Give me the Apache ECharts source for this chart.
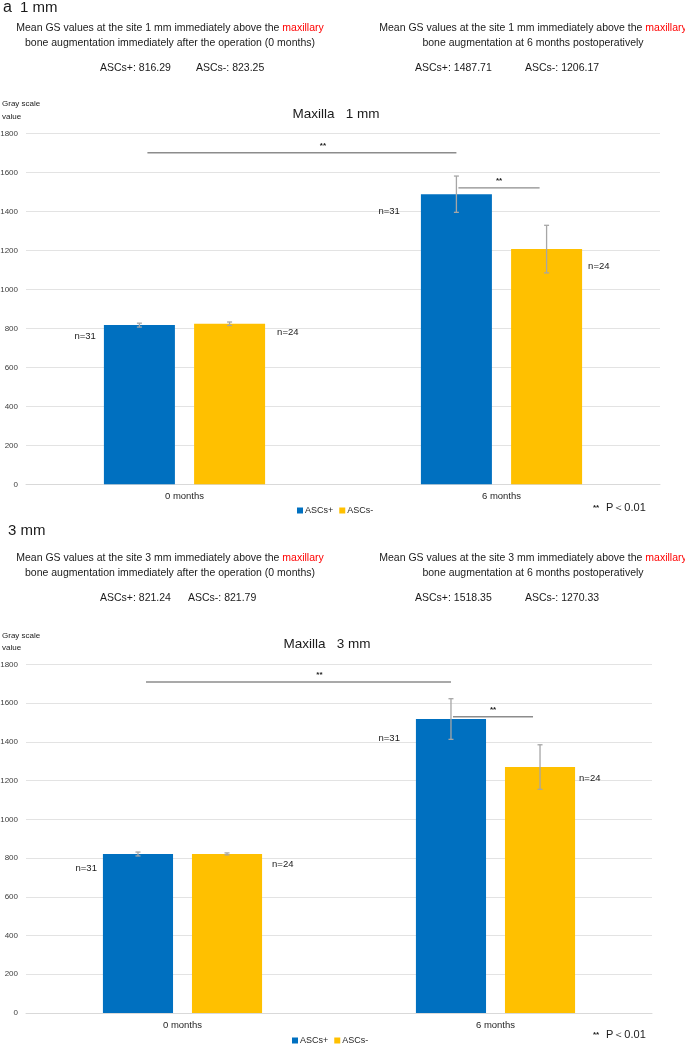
<!DOCTYPE html>
<html><head><meta charset="utf-8">
<script src="https://cdn.jsdelivr.net/npm/echarts@6/dist/echarts.min.js"></script>
<style>html,body{margin:0;padding:0;background:#fff}#c{width:685px;height:1046px}</style>
</head><body><div id="c"></div>
<script>
// ---------- data ----------
const categories = ['0 months', '6 months'];
const seriesNames = ['ASCs+', 'ASCs-'];
const yTicks = [0, 200, 400, 600, 800, 1000, 1200, 1400, 1600, 1800];
// 1 mm
const mean1Pos = [816.29, 1487.71];
const mean1Neg = [823.25, 1206.17];
const sd1Pos = [10, 93];
const sd1Neg = [9, 122];
// 3 mm
const mean3Pos = [821.24, 1518.35];
const mean3Neg = [821.79, 1270.33];
const sd3Pos = [10, 105];
const sd3Neg = [5, 115];
// group sizes
const nPos = ['n=31', 'n=31'];
const nNeg = ['n=24', 'n=24'];
// significance comparisons: [catA, slotA, catB, slotB, level]
const sig1 = [[0, 0, 1, 0, 1700], [1, 0, 1, 1, 1520]];
const sig3 = [[0, 0, 1, 0, 1710], [1, 0, 1, 1, 1530]];
const sigMark = '**';

// ---------- style/layout ----------
const BLUE = '#0070C0', YELLOW = '#FFC000';
const FONT = 'Liberation Sans, Arial, Helvetica, sans-serif';
const BAR_FRAC = 0.224, GAP_FRAC = 0.27;
// n label offsets [blueDx, blueDy, yellowDx, yellowDy] per category per chart
const nOffsets = [
  [[-8, 11, 12, 9], [-21, 17, 6, 17]],
  [[-6, 14, 10, 10], [-16, 19, 4, 11]]
];
// sig line offsets [startDx, endDx, starDx]
const sigOffsets = [[8, 0, 21], [2, -7, 0]];

function barX(api, cat, slot) {
  const c = api.coord([cat, 0])[0];
  const band = api.size([1, 0])[0];
  const bw = band * BAR_FRAC;
  const gap = bw * GAP_FRAC;
  return c + (slot === 0 ? -1 : 1) * (bw + gap) / 2;
}
function barW(api) { return api.size([1, 0])[0] * BAR_FRAC; }

const grids = [
  { left: 26, top: 133.3, width: 634, height: 351, containLabel: false, outerBoundsMode: 'none' },
  { left: 26, top: 664.5, width: 626, height: 348.5, containLabel: false, outerBoundsMode: 'none' }
];
const sets = [
  { pos: mean1Pos, neg: mean1Neg, sdp: sd1Pos, sdn: sd1Neg, sig: sig1 },
  { pos: mean3Pos, neg: mean3Neg, sdp: sd3Pos, sdn: sd3Neg, sig: sig3 }
];

const xAxes = [], yAxes = [], series = [];
sets.forEach((s, gi) => {
  xAxes.push({
    type: 'category', gridIndex: gi, data: categories,
    axisLine: { lineStyle: { color: '#d9d9d9' } }, axisTick: { show: false },
    axisLabel: { color: '#262626', fontSize: 9.5, fontFamily: FONT, margin: 7 }
  });
  yAxes.push({
    type: 'value', gridIndex: gi, min: yTicks[0], max: yTicks[yTicks.length - 1],
    interval: yTicks[1] - yTicks[0],
    axisLine: { show: false }, axisTick: { show: false },
    axisLabel: { color: '#404040', fontSize: 8, fontFamily: FONT, margin: 8, formatter: v => String(v) },
    splitLine: { lineStyle: { color: '#e3e3e3', width: 1 } }
  });
  [s.pos, s.neg].forEach((vals, k) => {
    series.push({
      type: 'bar', name: seriesNames[k], xAxisIndex: gi, yAxisIndex: gi,
      data: vals, barWidth: (BAR_FRAC * 100) + '%', barGap: (GAP_FRAC * 100) + '%',
      itemStyle: { color: k === 0 ? BLUE : YELLOW }, silent: true
    });
  });
  // error bars
  const errData = [];
  [s.pos, s.neg].forEach((vals, k) => {
    const sds = k === 0 ? s.sdp : s.sdn;
    vals.forEach((v, ci) => errData.push([ci, v - sds[ci], v + sds[ci], k]));
  });
  series.push({
    type: 'custom', xAxisIndex: gi, yAxisIndex: gi, data: errData, silent: true, z: 5,
    encode: { x: 0, y: [1, 2] },
    renderItem: (params, api) => {
      const cat = api.value(0), slot = api.value(3);
      const x = barX(api, cat, slot);
      const lo = api.coord([cat, api.value(1)])[1];
      const hi = api.coord([cat, api.value(2)])[1];
      const st = { stroke: '#a6a6a6', lineWidth: 1.3 };
      return { type: 'group', children: [
        { type: 'line', shape: { x1: x, y1: lo, x2: x, y2: hi }, style: st },
        { type: 'line', shape: { x1: x - 2.5, y1: lo, x2: x + 2.5, y2: lo }, style: st },
        { type: 'line', shape: { x1: x - 2.5, y1: hi, x2: x + 2.5, y2: hi }, style: st }
      ] };
    }
  });
  // n labels
  const nData = [];
  [s.pos, s.neg].forEach((vals, k) => vals.forEach((v, ci) => nData.push([ci, v, k])));
  series.push({
    type: 'custom', xAxisIndex: gi, yAxisIndex: gi, data: nData, silent: true, z: 6,
    encode: { x: 0, y: 1 },
    renderItem: (params, api) => {
      const cat = api.value(0), slot = api.value(2);
      const cx = barX(api, cat, slot), w = barW(api);
      const top = api.coord([cat, api.value(1)])[1];
      const off = nOffsets[gi][cat];
      const isPos = slot === 0;
      return { type: 'text', style: {
        text: isPos ? nPos[cat] : nNeg[cat],
        x: isPos ? cx - w / 2 + off[0] : cx + w / 2 + off[2],
        y: top + (isPos ? off[1] : off[3]),
        align: isPos ? 'right' : 'left', verticalAlign: 'middle',
        fill: '#1a1a1a', font: '9.5px ' + FONT } };
    }
  });
  // significance lines
  series.push({
    type: 'custom', xAxisIndex: gi, yAxisIndex: gi, data: s.sig, silent: true, z: 6,
    encode: { x: [0, 2], y: 4 },
    renderItem: (params, api) => {
      const i = params.dataIndex, o = sigOffsets[i];
      const x1 = barX(api, api.value(0), api.value(1)) + o[0];
      const x2 = barX(api, api.value(2), api.value(3)) + o[1];
      const y = api.coord([0, api.value(4)])[1];
      return { type: 'group', children: [
        { type: 'line', shape: { x1, y1: y, x2, y2: y }, style: { stroke: '#8c8c8c', lineWidth: 1.4 } },
        { type: 'text', style: { text: sigMark, x: (x1 + x2) / 2 + o[2], y: y - 7,
          align: 'center', verticalAlign: 'middle', fill: '#1a1a1a', font: 'bold 8px ' + FONT } }
      ] };
    }
  });
});

function txt(text, x, y, size, opts) {
  return Object.assign({ type: 'text', x, y, silent: true,
    style: Object.assign({ text, font: size + 'px ' + FONT, fill: '#1a1a1a', align: 'left', verticalAlign: 'middle' }, opts || {}) });
}
function header(line1a, line2, cx, y) {
  return { type: 'text', x: cx, y, silent: true, style: {
    text: '{a|' + line1a + '}{r|maxillary}\n{a|' + line2 + '}',
    align: 'center', verticalAlign: 'top', font: '10.5px ' + FONT, fill: '#1a1a1a', lineHeight: 15,
    rich: { a: { fontSize: 10.5, fontFamily: FONT, fill: '#1a1a1a', lineHeight: 15 },
            r: { fontSize: 10.5, fontFamily: FONT, fill: '#ff0000', lineHeight: 15 } } } };
}
const fmt = v => v.toFixed(2);
const graphics = [
  txt('a', 3, 8, 16), txt('1 mm', 20, 8, 15),
  header('Mean GS values at the site 1 mm immediately above the ', 'bone augmentation immediately after the operation (0 months)', 170, 21),
  header('Mean GS values at the site 1 mm immediately above the ', 'bone augmentation at 6 months postoperatively', 533, 21),
  txt(seriesNames[0] + ': ' + fmt(mean1Pos[0]), 100, 68, 10.5), txt(seriesNames[1] + ': ' + fmt(mean1Neg[0]), 196, 68, 10.5),
  txt(seriesNames[0] + ': ' + fmt(mean1Pos[1]), 415, 68, 10.5), txt(seriesNames[1] + ': ' + fmt(mean1Neg[1]), 525, 68, 10.5),
  txt('Gray scale\nvalue', 2, 110, 8, { lineHeight: 13 }),
  txt('Maxilla   1 mm', 336, 114, 13.5, { align: 'center' }),
  txt('**', 593, 508, 8, { font: 'bold 8px ' + FONT }), txt('P\uFF1C0.01', 606, 508, 11),

  txt('3 mm', 8, 531, 15),
  header('Mean GS values at the site 3 mm immediately above the ', 'bone augmentation immediately after the operation (0 months)', 170, 551),
  header('Mean GS values at the site 3 mm immediately above the ', 'bone augmentation at 6 months postoperatively', 533, 551),
  txt(seriesNames[0] + ': ' + fmt(mean3Pos[0]), 100, 598, 10.5), txt(seriesNames[1] + ': ' + fmt(mean3Neg[0]), 188, 598, 10.5),
  txt(seriesNames[0] + ': ' + fmt(mean3Pos[1]), 415, 598, 10.5), txt(seriesNames[1] + ': ' + fmt(mean3Neg[1]), 525, 598, 10.5),
  txt('Gray scale\nvalue', 2, 642, 8, { lineHeight: 12 }),
  txt('Maxilla   3 mm', 327, 644, 13.5, { align: 'center' }),
  txt('**', 593, 1035, 8, { font: 'bold 8px ' + FONT }), txt('P\uFF1C0.01', 606, 1035, 11)
];

const legendBase = {
  data: seriesNames, icon: 'rect', itemWidth: 6, itemHeight: 6, itemGap: 6, padding: 0,
  textStyle: { fontSize: 9, fontFamily: FONT, color: '#262626', padding: [0, 0, 0, -3] }, selectedMode: false
};
const chart = echarts.init(document.getElementById('c'), null, { renderer: 'canvas' });
chart.setOption({
  animation: false,
  backgroundColor: '#fff',
  textStyle: { fontFamily: FONT },
  grid: grids,
  xAxis: xAxes, yAxis: yAxes,
  legend: [Object.assign({ left: 297, top: 506 }, legendBase), Object.assign({ left: 292, top: 1036 }, legendBase)],
  graphic: graphics,
  series
});
</script></body></html>
